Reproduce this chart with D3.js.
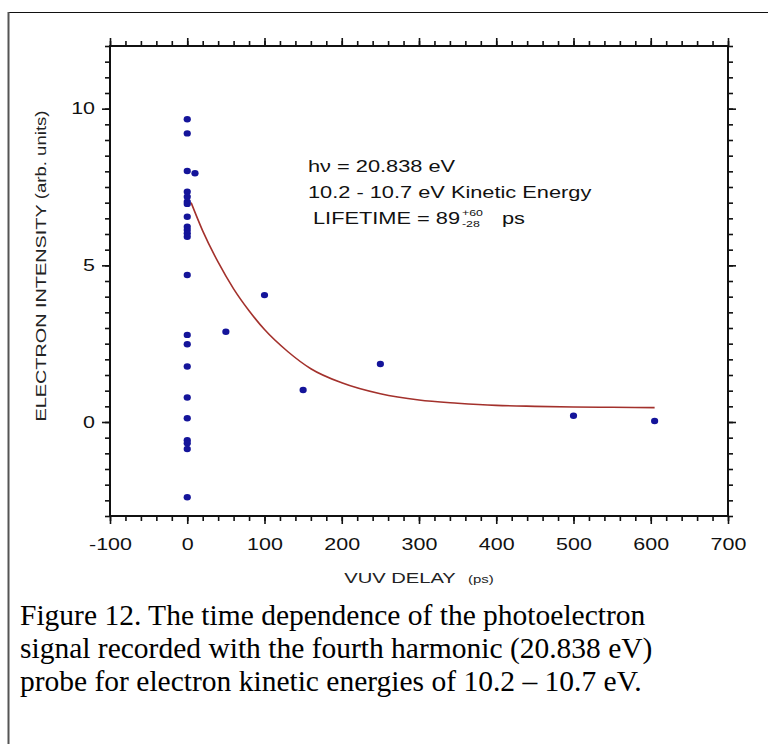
<!DOCTYPE html>
<html>
<head>
<meta charset="utf-8">
<script src="https://cdn.jsdelivr.net/npm/d3@7"></script>
<style>
  body { margin: 0; background: #fff; }
  svg { display: block; }
</style>
</head>
<body>
<div id="chart"></div>
<script>
// data
const delays = [0, 0, 0, 0, 0, 0, 0, 0, 0, 0, 0, 0, 0, 0, 0, 0, 0, 0, 0, 0, 0, 0,
                10, 50, 100, 150, 250, 500, 605];
const intensity = [9.66, 9.21, 8.01, 7.35, 7.19, 7.03, 6.96, 6.55, 6.23, 6.13, 6.02, 5.91,
                   4.69, 2.78, 2.48, 1.77, 0.78, 0.12, -0.58, -0.68, -0.86, -2.40,
                   7.94, 2.88, 4.05, 1.02, 1.85, 0.20, 0.03];

// fitted decay curve
const fitDelay = [5, 20, 40, 60, 80, 100, 130, 160, 200, 250, 300, 350, 400, 450, 500, 550, 605];
const fitIntensity = [7.0, 6.1, 5.1, 4.25, 3.55, 2.95, 2.25, 1.7, 1.25, 0.9, 0.7, 0.6, 0.53, 0.5, 0.48, 0.47, 0.46];

const xMajor = [-100, 0, 100, 200, 300, 400, 500, 600, 700];
const xMinor = d3.range(-100, 701, 20);
const yMajor = [0, 5, 10];
const yMinor = d3.range(-3, 12.01, 0.5);

const annotation = ["h\u03bd = 20.838 eV", "10.2 - 10.7 eV Kinetic Energy"];
const caption = [
    "Figure 12. The time dependence of the photoelectron",
    "signal recorded with the fourth harmonic (20.838 eV)",
    "probe for electron kinetic energies of 10.2 \u2013 10.7 eV."
];

const width = 768;
const height = 744;
const sans = "'Liberation Sans', Arial, sans-serif";

const svg = d3.select("#chart")
    .append("svg")
    .attr("width", width)
    .attr("height", height);

svg.append("rect")
    .attr("width", width)
    .attr("height", height)
    .attr("fill", "white");

// outer frame, runs off the right and bottom edges
svg.append("line")
    .attr("x1", 8).attr("y1", 12.5).attr("x2", width).attr("y2", 12.5)
    .attr("stroke", "#111").attr("stroke-width", 1);
svg.append("line")
    .attr("x1", 8.5).attr("y1", 12).attr("x2", 8.5).attr("y2", height)
    .attr("stroke", "#555").attr("stroke-width", 2);

const x = d3.scaleLinear().domain([-100, 700]).range([110, 728]);
const y = d3.scaleLinear().domain([-3, 12]).range([516, 46]);

// stretch text sideways, the original lettering is wide
function widen(sel, k) {
    sel.each(function() {
        const w = this.getComputedTextLength();
        d3.select(this)
          .attr("textLength", w * k)
          .attr("lengthAdjust", "spacingAndGlyphs");
    });
}

function styleAxis(g) {
    g.select(".domain").remove();
    g.selectAll(".tick line").attr("stroke", "#111").attr("stroke-width", 1.6);
}

// minor ticks on all four sides
svg.append("g").attr("transform", `translate(0,${y(-3)})`)
    .call(d3.axisBottom(x).tickValues(xMinor).tickSize(5).tickFormat(""))
    .call(styleAxis);
svg.append("g").attr("transform", `translate(0,${y(12)})`)
    .call(d3.axisTop(x).tickValues(xMinor).tickSize(5).tickFormat(""))
    .call(styleAxis);
svg.append("g").attr("transform", `translate(${x(-100)},0)`)
    .call(d3.axisLeft(y).tickValues(yMinor).tickSize(5).tickFormat(""))
    .call(styleAxis);
svg.append("g").attr("transform", `translate(${x(700)},0)`)
    .call(d3.axisRight(y).tickValues(yMinor).tickSize(5).tickFormat(""))
    .call(styleAxis);

// major ticks
const xBottom = svg.append("g").attr("transform", `translate(0,${y(-3)})`)
    .call(d3.axisBottom(x).tickValues(xMajor).tickSize(8).tickPadding(14).tickFormat(d => String(d)))
    .call(styleAxis);
svg.append("g").attr("transform", `translate(0,${y(12)})`)
    .call(d3.axisTop(x).tickValues(xMajor).tickSize(8).tickFormat(""))
    .call(styleAxis);
const yLeft = svg.append("g").attr("transform", `translate(${x(-100)},0)`)
    .call(d3.axisLeft(y).tickValues(yMajor).tickSize(8).tickPadding(7).tickFormat(d => String(d)))
    .call(styleAxis);
svg.append("g").attr("transform", `translate(${x(700)},0)`)
    .call(d3.axisRight(y).tickValues(yMajor).tickSize(8).tickFormat(""))
    .call(styleAxis);

[xBottom, yLeft].forEach(g => {
    g.selectAll(".tick text")
     .attr("fill", "#111")
     .style("font-family", sans)
     .style("font-size", "16.5px")
     .call(widen, 1.3);
});

// plot frame
svg.append("rect")
    .attr("x", x(-100))
    .attr("y", y(12))
    .attr("width", x(700) - x(-100))
    .attr("height", y(-3) - y(12))
    .attr("fill", "none")
    .attr("stroke", "#111")
    .attr("stroke-width", 2);

// axis titles
const xTitle = svg.append("text")
    .attr("x", 400)
    .attr("y", 583)
    .attr("text-anchor", "middle")
    .attr("fill", "#222")
    .style("font-family", sans)
    .style("font-size", "15.5px")
    .text("VUV DELAY");
widen(xTitle, 1.3);
const xUnit = svg.append("text")
    .attr("x", 468)
    .attr("y", 583)
    .attr("fill", "#222")
    .style("font-family", sans)
    .style("font-size", "11.5px")
    .text("(ps)");
widen(xUnit, 1.3);

const yTitle = svg.append("text")
    .attr("transform", "translate(46,266) rotate(-90)")
    .attr("text-anchor", "middle")
    .attr("fill", "#222")
    .style("font-family", sans)
    .style("font-size", "15.5px");
yTitle.append("tspan").text("ELECTRON INTENSITY  ");
yTitle.append("tspan").style("font-size", "14.5px").text("(arb. units)");
widen(yTitle, 1.28);

// fit line
const fitData = fitDelay.map((t, i) => ({ t: t, v: fitIntensity[i] }));
svg.append("path")
    .datum(fitData)
    .attr("fill", "none")
    .attr("stroke", "#a3312c")
    .attr("stroke-width", 1.6)
    .attr("d", d3.line()
        .x(d => x(d.t))
        .y(d => y(d.v))
        .curve(d3.curveMonotoneX));

// points
const pointData = delays.map((t, i) => ({ t: t, v: intensity[i] }));
svg.selectAll(".pt")
    .data(pointData)
    .enter()
    .append("ellipse")
    .attr("class", "pt")
    .attr("cx", d => x(d.t))
    .attr("cy", d => y(d.v))
    .attr("rx", 3.6)
    .attr("ry", 3.2)
    .attr("fill", "#14149a");

// annotation block
annotation.forEach((line, i) => {
    svg.append("text")
        .attr("x", 308)
        .attr("y", 172 + i * 26)
        .attr("fill", "#111")
        .style("font-family", sans)
        .style("font-size", "16.5px")
        .text(line)
        .call(widen, 1.32);
});
svg.append("text")
    .attr("x", 313).attr("y", 224)
    .attr("fill", "#111")
    .style("font-family", sans).style("font-size", "16.5px")
    .text("LIFETIME = 89")
    .call(widen, 1.32);
svg.append("text")
    .attr("x", 462).attr("y", 216)
    .attr("fill", "#111")
    .style("font-family", sans).style("font-size", "9.5px")
    .text("+60")
    .call(widen, 1.3);
svg.append("text")
    .attr("x", 462).attr("y", 227)
    .attr("fill", "#111")
    .style("font-family", sans).style("font-size", "9.5px")
    .text("-28")
    .call(widen, 1.3);
svg.append("text")
    .attr("x", 502).attr("y", 224)
    .attr("fill", "#111")
    .style("font-family", sans).style("font-size", "16.5px")
    .text("ps")
    .call(widen, 1.32);

// caption
svg.selectAll(".caption")
    .data(caption)
    .enter()
    .append("text")
    .attr("class", "caption")
    .attr("x", 20)
    .attr("y", (d, i) => 625 + i * 33)
    .attr("fill", "#000")
    .style("font-family", "'Liberation Serif', 'Times New Roman', serif")
    .style("font-size", "29.5px")
    .text(d => d);
</script>
</body>
</html>
